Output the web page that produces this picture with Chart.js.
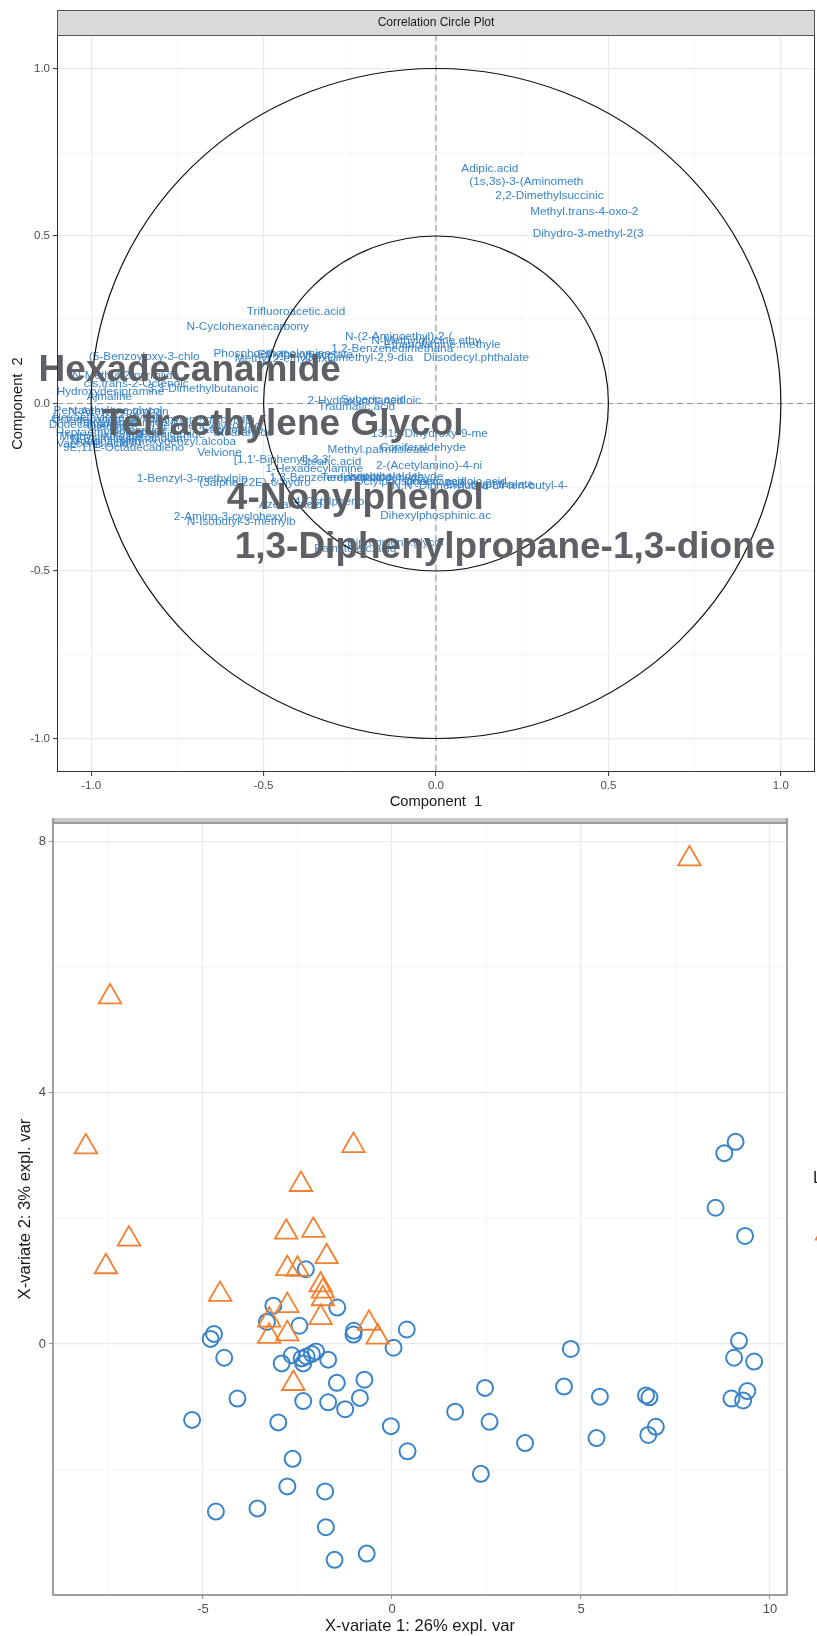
<!DOCTYPE html>
<html>
<head>
<meta charset="utf-8">
<title>Correlation circle and sample plot</title>
<script src="https://cdn.jsdelivr.net/npm/chart.js@4.4.1/dist/chart.umd.min.js"></script>
<style>
  html, body { margin: 0; padding: 0; background: #fff; }
  body { width: 817px; height: 1636px; position: relative; overflow: hidden; }
  #corrChart { position: absolute; left: 0; top: 0; }
  #scoreChart { position: absolute; left: 0; top: 815px; }
</style>
</head>
<body>
<canvas id="corrChart" width="817" height="815"></canvas>
<canvas id="scoreChart" width="817" height="821"></canvas>
<script>
const FONT = '"Liberation Sans", Arial, Helvetica, sans-serif';

// --- correlation circle: variables and their correlation with components 1 / 2
const varNames = [
    'Adipic.acid', '(1s,3s)-3-(Aminometh', '2,2-Dimethylsuccinic', 'Methyl.trans-4-oxo-2', 'Dihydro-3-methyl-2(3',
    'Trifluoroacetic.acid', 'N-Cyclohexanecarbony', 'N-(2-Aminoethyl)-2-(', 'N-Methylglycine.ethy', '1,2-Benzenedimethana',
    'Ethanolamine.methyle', 'Diisodecyl.phthalate', 'Phosphoethanolamine', 'Methyl.2-ethylhexyl', 'Ethylhexyl.acetate',
    '3,7-Dimethyl-2,9-dia', '(5-Benzoyloxy-3-chlo', 'N-Methyl-2-pyrrolido', 'cis,trans-2-Octenoic', 'Hydroxydesipramine',
    '3,3-Dimethylbutanoic', 'Ajmaline', '2-Hydroxyoctanedioic', 'Suberic.acid', 'Traumatic.acid',
    'Pentaethylene.glycol', 'N-Acetyltryptophan', 'Hexaethylene.glycol', 'Octadecanamide', 'Tetradecanamide',
    'Dodecanamide', 'Oleamide', 'Linoleamide', 'Heptaethylene.glycol', 'Palmitamide',
    'Methyl.linoleate', 'N-Palmitoylethanolam', 'Monopalmitin', 'Vaccenic.acid', 'Hydroxybenzyl.alcoba',
    '9E,11E-Octadecadieno', 'Diethylene.glycol.dib', 'Triethylene.glycol.mo', 'Ethyl.oleate', 'Stearamide',
    'Velvione', "[1,1'-Biphenyl]-3,3'", '1-Benzyl-3-methylpip', '(3alpha,22E)-6-hydro', '1-Hexadecylamine',
    'Stearic.acid', '1,3-Benzenedimethano', '13,15-Dihydroxy-9-me', 'Methyl.palmitoleate', 'Coniferaldehyde',
    '2-(Acetylamino)-4-ni', 'Terephthalaldehyde', 'Octylphosphonic.acid', 'Isophthalaldehyde', "N,N'-Diphenylurea",
    'Dodecanedioic.acid', '2,6-Di-tert-butyl-4-', 'Dibutyl.phthalate', 'Dihexylphosphinic.ac', 'Azelaic.acid',
    '4-Octylphenol', '2-Amino-3-cyclohexyl', 'N-Isobutyl-3-methylb', 'Palmitoleic.acid', 'Dipropylene.glycol'
];
const comp1 = [
    0.156, 0.262, 0.329, 0.430, 0.441,
    -0.406, -0.546, -0.108, -0.029, -0.127,
    0.018, 0.117, -0.475, -0.437, -0.379,
    -0.220, -0.846, -0.900, -0.869, -0.944,
    -0.675, -0.947, -0.208, -0.182, -0.230,
    -0.951, -0.921, -0.959, -0.987, -0.909,
    -1.008, -0.938, -0.872, -0.944, -0.764,
    -0.973, -0.892, -0.958, -0.996, -0.747,
    -0.906, -0.683, -0.668, -0.590, -0.559,
    -0.628, -0.446, -0.707, -0.525, -0.353,
    -0.306, -0.306, -0.019, -0.167, -0.038,
    -0.020, -0.185, -0.074, -0.118, 0.012,
    0.056, 0.244, 0.157, -0.001, -0.422,
    -0.306, -0.597, -0.565, -0.234, -0.118
];
const comp2 = [
    0.705, 0.665, 0.623, 0.574, 0.510,
    0.278, 0.231, 0.203, 0.191, 0.167,
    0.179, 0.140, 0.152, 0.137, 0.149,
    0.140, 0.143, 0.087, 0.063, 0.037,
    0.048, 0.024, 0.011, 0.014, -0.006,
    -0.018, -0.022, -0.039, -0.046, -0.054,
    -0.061, -0.066, -0.078, -0.084, -0.090,
    -0.096, -0.101, -0.110, -0.116, -0.110,
    -0.130, -0.045, -0.063, -0.075, -0.084,
    -0.145, -0.164, -0.222, -0.235, -0.191,
    -0.172, -0.218, -0.086, -0.135, -0.128,
    -0.183, -0.218, -0.231, -0.216, -0.242,
    -0.230, -0.242, -0.239, -0.331, -0.299,
    -0.290, -0.334, -0.349, -0.430, -0.412
];

// highlighted variables (big grey labels)
const keyNames = ['Hexadecanamide', 'Tetraethylene Glycol', '4-Nonylphenol', '1,3-Diphenylpropane-1,3-dione'];
const keyComp1 = [-0.714, -0.444, -0.234, 0.200];
const keyComp2 = [0.107, -0.054, -0.276, -0.421];

const circleRadii = [1, 0.5];
const corrMajor = [-1, -0.5, 0, 0.5, 1];
const corrMinor = [-0.75, -0.25, 0.25, 0.75];

// --- sample plot (X-variate 1 / X-variate 2)
const groupAx = [
    -2.28, -3.14, -1.45, -3.31, -2.45, -4.71, -4.80, -1.01, -1.02, 0.39,
    0.04, -4.44, -2.65, -2.92, -2.39, -2.26, -2.35, -2.12, -2.01, -1.69,
    -1.46, -0.73, -0.85, -1.24, -1.69, -2.35, -4.09, -5.29, -3.01, -0.03,
    0.41, -2.63, -2.77, -1.77, -3.56, -4.66, -1.75, -1.52, -0.67, 9.09,
    8.79, 8.56, 9.34, 9.18, 9.05, 9.58, 9.40, 8.98, 9.29, 4.73,
    4.55, 5.50, 6.72, 6.81, 6.98, 6.78, 5.41, 3.52, 2.46, 2.58,
    1.67, 2.35
];
const groupAy = [
    1.19, 0.61, 0.58, 0.35, 0.29, 0.16, 0.08, 0.21, 0.15, 0.23,
    -0.06, -0.22, -0.18, -0.31, -0.23, -0.20, -0.31, -0.16, -0.12, -0.25,
    -0.62, -0.57, -0.86, -1.04, -0.93, -0.91, -0.87, -1.21, -1.25, -1.31,
    -1.71, -1.83, -2.27, -2.35, -2.62, -2.67, -2.92, -3.44, -3.34, 3.22,
    3.04, 2.17, 1.72, 0.05, -0.22, -0.28, -0.75, -0.87, -0.90, -0.08,
    -0.68, -0.84, -0.82, -0.85, -1.32, -1.45, -1.50, -1.58, -0.70, -1.24,
    -1.08, -2.07
];
const groupBx = [
    -7.46, -8.10, -1.02, -2.41, 7.87, -6.96, -7.57, -4.55, -2.80, -2.08,
    -1.73, -2.77, -2.50, -1.89, -1.83, -1.83, -2.77, -1.89, -3.25, -3.25,
    -2.77, -0.61, -0.38, -2.61
];
const groupBy = [
    5.53, 3.14, 3.16, 2.54, 7.73, 1.67, 1.23, 0.79, 1.78, 1.81,
    1.39, 1.20, 1.19, 0.94, 0.84, 0.72, 0.61, 0.42, 0.38, 0.12,
    0.16, 0.33, 0.11, -0.63
];
const scoreXMajor = [-5, 0, 5, 10];
const scoreXMinor = [-7.5, -2.5, 2.5, 7.5];
const scoreYMajor = [0, 4, 8];
const scoreYMinor = [-2, 2, 6];

const BLUE = '#3A84C9';
const ORANGE = '#F4802F';

function toPoints(xs, ys) {
    return xs.map((v, i) => ({ x: v, y: ys[i] }));
}

// linear axis with ggplot-like major + minor grid
function gridAxis(major, minor, fmt, o) {
    const all = major.concat(minor).sort((a, b) => a - b);
    const isMajor = v => major.some(m => Math.abs(m - v) < 1e-9);
    const onMajor = c => c.tick && isMajor(c.tick.value);
    return {
        type: 'linear',
        position: o.position,
        min: o.min,
        max: o.max,
        afterBuildTicks: s => { s.ticks = all.map(v => ({ value: v })); },
        afterFit: s => {
            if (o.width) s.width = o.width;
            if (o.height) s.height = o.height;
            s.paddingTop = 0;
            s.paddingBottom = 0;
            s.paddingLeft = 0;
            s.paddingRight = 0;
        },
        grid: {
            color: c => onMajor(c) ? '#e9e9e9' : '#f2f2f2',
            lineWidth: c => onMajor(c) ? 1.2 : 0.7,
            tickColor: c => onMajor(c) ? o.tickColor : 'rgba(0,0,0,0)',
            tickWidth: 1,
            tickLength: 4
        },
        border: { display: false },
        ticks: {
            autoSkip: false,
            maxRotation: 0,
            padding: 3,
            color: '#4d4d4d',
            font: { family: FONT, size: o.tickSize },
            callback: v => isMajor(v) ? fmt(v) : ''
        },
        title: {
            display: true,
            text: o.title,
            color: '#1a1a1a',
            font: { family: FONT, size: o.titleSize },
            padding: o.titlePadding
        }
    };
}

function drawLabels(chart, idx, names, size, weight, color) {
    const ctx = chart.ctx;
    const pts = chart.getDatasetMeta(idx).data;
    ctx.save();
    ctx.font = weight + ' ' + size + 'px ' + FONT;
    ctx.fillStyle = color;
    ctx.textAlign = 'center';
    ctx.textBaseline = 'alphabetic';
    pts.forEach((p, i) => ctx.fillText(names[i], p.x, p.y + size * 0.36));
    ctx.restore();
}

// Correlation circle plot
const corrOverlay = {
    id: 'corrOverlay',
    beforeDatasetsDraw(chart) {
        const { ctx, chartArea: a, scales: { x, y } } = chart;
        ctx.save();
        ctx.strokeStyle = '#999999';
        ctx.lineWidth = 1.1;
        ctx.setLineDash([6, 4]);
        ctx.beginPath();
        ctx.moveTo(x.getPixelForValue(0), a.top);
        ctx.lineTo(x.getPixelForValue(0), a.bottom);
        ctx.moveTo(a.left, y.getPixelForValue(0));
        ctx.lineTo(a.right, y.getPixelForValue(0));
        ctx.stroke();
        ctx.restore();
    },
    afterDatasetsDraw(chart) {
        const { ctx, scales: { x, y } } = chart;
        drawLabels(chart, 0, varNames, 11.8, 'normal', BLUE);

        const cx = x.getPixelForValue(0), cy = y.getPixelForValue(0);
        ctx.save();
        ctx.strokeStyle = '#111111';
        ctx.lineWidth = 1.2;
        circleRadii.forEach(r => {
            const rx = x.getPixelForValue(r) - cx;
            const ry = cy - y.getPixelForValue(r);
            ctx.beginPath();
            ctx.ellipse(cx, cy, rx, ry, 0, 0, Math.PI * 2);
            ctx.stroke();
        });
        ctx.restore();

        drawLabels(chart, 1, keyNames, 37, 'bold', '#5D6065');
    },
    afterDraw(chart) {
        const { ctx, chartArea: a } = chart;
        ctx.save();
        ctx.strokeStyle = '#333333';
        ctx.lineWidth = 1;
        ctx.strokeRect(a.left + 0.5, a.top + 0.5, a.right - a.left - 1, a.bottom - a.top - 1);
        // facet strip
        ctx.fillStyle = '#d9d9d9';
        ctx.fillRect(a.left, 10, a.right - a.left, a.top - 10);
        ctx.strokeStyle = '#555555';
        ctx.strokeRect(a.left + 0.5, 10.5, a.right - a.left - 1, a.top - 10);
        ctx.fillStyle = '#1a1a1a';
        ctx.font = '12px ' + FONT;
        ctx.textAlign = 'center';
        ctx.textBaseline = 'middle';
        ctx.fillText('Correlation Circle Plot', (a.left + a.right) / 2, 23);
        ctx.restore();
    }
};

new Chart(document.getElementById('corrChart'), {
    type: 'scatter',
    data: {
        datasets: [
            { label: 'variables', data: toPoints(comp1, comp2), pointRadius: 0, pointHoverRadius: 0 },
            { label: 'highlighted', data: toPoints(keyComp1, keyComp2), pointRadius: 0, pointHoverRadius: 0 }
        ]
    },
    options: {
        responsive: false,
        devicePixelRatio: 1,
        animation: false,
        events: [],
        layout: { autoPadding: false, padding: { left: 0, right: 2, top: 35, bottom: 0 } },
        plugins: { legend: { display: false }, tooltip: { enabled: false } },
        scales: {
            x: gridAxis(corrMajor, corrMinor, v => v.toFixed(1), {
                position: 'bottom', min: -1.099, max: 1.099, height: 43, tickColor: '#333333',
                tickSize: 11.5, title: 'Component  1', titleSize: 14.75, titlePadding: { top: 0, bottom: 4 }
            }),
            y: gridAxis(corrMajor, corrMinor, v => v.toFixed(1), {
                position: 'left', min: -1.1, max: 1.1, width: 57, tickColor: '#333333',
                tickSize: 11.5, title: 'Component  2', titleSize: 14.75, titlePadding: { top: 9, bottom: 0 }
            })
        }
    },
    plugins: [corrOverlay]
});

// Sample plot
const scoreOverlay = {
    id: 'scoreOverlay',
    afterDraw(chart) {
        const { ctx, chartArea: a } = chart;
        ctx.save();
        // thin remains of the facet strip
        ctx.fillStyle = '#c9c9c9';
        ctx.fillRect(a.left, 3, a.right - a.left, a.top - 3);
        ctx.strokeStyle = '#8a8a8a';
        ctx.lineWidth = 1.6;
        ctx.strokeRect(a.left, a.top, a.right - a.left, a.bottom - a.top);
        ctx.beginPath();
        ctx.moveTo(a.left, 3);
        ctx.lineTo(a.left, a.top);
        ctx.moveTo(a.right, 3);
        ctx.lineTo(a.right, a.top);
        ctx.stroke();

        // legend, cut by the right edge of the page
        ctx.fillStyle = '#1a1a1a';
        ctx.font = '16.6px ' + FONT;
        ctx.textAlign = 'left';
        ctx.textBaseline = 'middle';
        ctx.fillText('Legend', 813, 363);
        const r = 13, lx = 827, ly = 418;
        ctx.strokeStyle = ORANGE;
        ctx.lineWidth = 1.8;
        ctx.beginPath();
        ctx.moveTo(lx, ly - r);
        ctx.lineTo(lx + r * 0.866, ly + r / 2);
        ctx.lineTo(lx - r * 0.866, ly + r / 2);
        ctx.closePath();
        ctx.stroke();
        ctx.restore();
    }
};

new Chart(document.getElementById('scoreChart'), {
    type: 'scatter',
    data: {
        datasets: [
            {
                label: 'group 2',
                data: toPoints(groupBx, groupBy),
                pointStyle: 'triangle',
                pointRadius: 13,
                borderWidth: 1.8,
                borderColor: ORANGE,
                backgroundColor: 'rgba(0,0,0,0)'
            },
            {
                label: 'group 1',
                data: toPoints(groupAx, groupAy),
                pointStyle: 'circle',
                pointRadius: 8,
                borderWidth: 2,
                borderColor: BLUE,
                backgroundColor: 'rgba(0,0,0,0)'
            }
        ]
    },
    options: {
        responsive: false,
        devicePixelRatio: 1,
        animation: false,
        events: [],
        layout: { autoPadding: false, padding: { left: 0, right: 30, top: 8, bottom: 0 } },
        plugins: { legend: { display: false }, tooltip: { enabled: false } },
        scales: {
            x: gridAxis(scoreXMajor, scoreXMinor, v => String(v), {
                position: 'bottom', min: -8.97, max: 10.45, height: 41, tickColor: '#8a8a8a',
                tickSize: 13, title: 'X-variate 1: 26% expl. var', titleSize: 16.6, titlePadding: { top: 0, bottom: 0 }
            }),
            y: gridAxis(scoreYMajor, scoreYMinor, v => String(v), {
                position: 'left', min: -4.0, max: 8.3, width: 53, tickColor: '#8a8a8a',
                tickSize: 13, title: 'X-variate 2: 3% expl. var', titleSize: 16.6, titlePadding: { top: 15, bottom: 0 }
            })
        }
    },
    plugins: [scoreOverlay]
});
</script>
</body>
</html>
